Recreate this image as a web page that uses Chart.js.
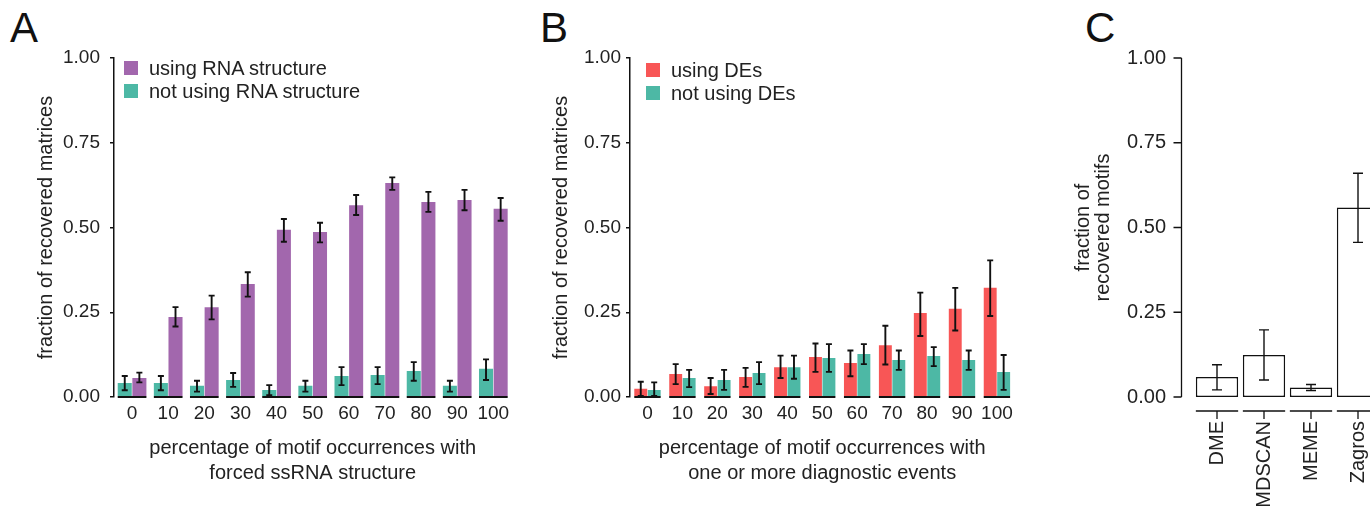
<!DOCTYPE html>
<html>
<head>
<meta charset="utf-8">
<script src="https://cdn.jsdelivr.net/npm/chart.js@4.4.1/dist/chart.umd.min.js"></script>
<style>
  html, body { margin: 0; padding: 0; background: #fff; width: 1370px; height: 509px; overflow: hidden; position: relative; }
  .panel { position: absolute; top: 0; height: 509px; }
  .tag { position: absolute; font: 42px "Liberation Sans", Arial, sans-serif; line-height: 1; color: #111; }
  .key { position: absolute; display: flex; align-items: center; height: 14px; font: 20px "Liberation Sans", Arial, sans-serif; color: #222; white-space: nowrap; }
  .key i { display: inline-block; width: 14px; height: 14px; margin-right: 11px; }
</style>
</head>
<body>
<div class="tag" style="left:10px;top:7px">A</div>
<div class="tag" style="left:540px;top:7px">B</div>
<div class="tag" style="left:1085px;top:7px">C</div>

<div class="panel" style="left:0;width:520px"><canvas id="chart-a"></canvas></div>
<div class="panel" style="left:530px;width:500px"><canvas id="chart-b"></canvas></div>
<div class="panel" style="left:1060px;width:330px"><canvas id="chart-c"></canvas></div>
<div id="legend-a"></div>
<div id="legend-b"></div>

<script>
// x categories for A and B
const pctLabels = ['0', '10', '20', '30', '40', '50', '60', '70', '80', '90', '100'];

// Panel A: forced ssRNA structure
const rnaUsing   = [0.056, 0.236, 0.265, 0.333, 0.493, 0.487, 0.566, 0.631, 0.575, 0.581, 0.555];
const rnaUsingLo = [0.043, 0.208, 0.229, 0.296, 0.458, 0.456, 0.537, 0.611, 0.546, 0.551, 0.520];
const rnaUsingHi = [0.072, 0.265, 0.299, 0.368, 0.525, 0.514, 0.596, 0.648, 0.605, 0.611, 0.587];
const rnaNot     = [0.041, 0.041, 0.033, 0.050, 0.021, 0.033, 0.062, 0.065, 0.077, 0.033, 0.083];
const rnaNotLo   = [0.020, 0.020, 0.016, 0.030, 0.005, 0.016, 0.035, 0.038, 0.048, 0.016, 0.050];
const rnaNotHi   = [0.062, 0.062, 0.048, 0.071, 0.035, 0.048, 0.088, 0.088, 0.103, 0.048, 0.111];

// Panel B: diagnostic events
const deUsing   = [0.024, 0.068, 0.032, 0.059, 0.088, 0.118, 0.100, 0.153, 0.248, 0.260, 0.322];
const deUsingLo = [0.003, 0.038, 0.009, 0.030, 0.056, 0.074, 0.061, 0.096, 0.180, 0.196, 0.239];
const deUsingHi = [0.045, 0.097, 0.056, 0.086, 0.122, 0.158, 0.137, 0.210, 0.308, 0.322, 0.403];
const deNot     = [0.021, 0.056, 0.050, 0.071, 0.088, 0.115, 0.127, 0.109, 0.121, 0.109, 0.074];
const deNotLo   = [0.003, 0.029, 0.021, 0.038, 0.054, 0.074, 0.097, 0.080, 0.091, 0.080, 0.021];
const deNotHi   = [0.043, 0.080, 0.080, 0.103, 0.122, 0.156, 0.156, 0.137, 0.147, 0.137, 0.124];

// Panel C: tools
const toolLabels = ['DME', 'MDSCAN', 'MEME', 'Zagros'];
const toolValues = [0.059, 0.124, 0.028, 0.559];
const toolLo     = [0.021, 0.050, 0.019, 0.456];
const toolHi     = [0.095, 0.198, 0.037, 0.660];

const yTicks = [0, 0.25, 0.5, 0.75, 1];

const PURPLE = '#a267ad';
const TEAL = '#4db8a5';
const RED = '#f85656';
const INK = '#222';

Chart.defaults.font.family = '"Liberation Sans", Arial, sans-serif';
Chart.defaults.color = INK;
Chart.defaults.animation = false;

// keep the chart area exactly where the layout padding puts it
function noEdgePadding(scale) {
    scale.paddingLeft = 0;
    scale.paddingRight = 0;
    scale.paddingTop = 0;
    scale.paddingBottom = 0;
}

// black segment under each group of bars (A and B)
const groupBase = {
    id: 'groupBase',
    afterDatasetsDraw(chart) {
        const ctx = chart.ctx;
        const first = chart.getDatasetMeta(0).data;
        const last = chart.getDatasetMeta(chart.data.datasets.length - 1).data;
        const y0 = chart.scales.y.getPixelForValue(0);
        ctx.save();
        ctx.strokeStyle = '#111';
        ctx.lineWidth = 2;
        ctx.beginPath();
        first.forEach((bar, j) => {
            ctx.moveTo(bar.x - bar.width / 2, y0);
            ctx.lineTo(last[j].x + last[j].width / 2, y0);
        });
        ctx.stroke();
        ctx.restore();
    }
};

// error bars read from dataset.errLo / dataset.errHi
const errorBars = {
    id: 'errorBars',
    afterDatasetsDraw(chart, args, opts) {
        const ctx = chart.ctx;
        const y = chart.scales.y;
        const half = opts.cap / 2;
        ctx.save();
        ctx.strokeStyle = '#111';
        ctx.lineWidth = opts.width;
        chart.data.datasets.forEach((ds, i) => {
            if (!ds.errLo) return;
            chart.getDatasetMeta(i).data.forEach((bar, j) => {
                const top = y.getPixelForValue(ds.errHi[j]);
                const bot = y.getPixelForValue(ds.errLo[j]);
                ctx.beginPath();
                ctx.moveTo(bar.x, top); ctx.lineTo(bar.x, bot);
                ctx.moveTo(bar.x - half, top); ctx.lineTo(bar.x + half, top);
                ctx.moveTo(bar.x - half, bot); ctx.lineTo(bar.x + half, bot);
                ctx.stroke();
            });
        });
        ctx.restore();
    }
};

// base-graphics style axes for panel C, set off from the plot
const detachedAxes = {
    id: 'detachedAxes',
    afterDraw(chart, args, opts) {
        const { ctx, chartArea, scales: { x, y } } = chart;
        const ax = chartArea.left - opts.gapY;
        const ay = chartArea.bottom + opts.gapX;
        ctx.save();
        ctx.strokeStyle = '#111';
        ctx.lineWidth = 1.3;
        ctx.beginPath();
        ctx.moveTo(ax, y.getPixelForValue(y.min));
        ctx.lineTo(ax, y.getPixelForValue(y.max));
        y.ticks.forEach(t => {
            const py = y.getPixelForValue(t.value);
            ctx.moveTo(ax - opts.tick, py);
            ctx.lineTo(ax, py);
        });
        chart.getDatasetMeta(0).data.forEach(bar => {
            ctx.moveTo(bar.x - bar.width / 2, ay);
            ctx.lineTo(bar.x + bar.width / 2, ay);
            ctx.moveTo(bar.x, ay);
            ctx.lineTo(bar.x, ay + opts.tick);
        });
        ctx.stroke();
        ctx.restore();
    }
};

function groupedOptions(cfg) {
    return {
        responsive: true,
        maintainAspectRatio: false,
        layout: { padding: { top: 58, right: cfg.right, bottom: 0, left: 0 } },
        plugins: {
            legend: { display: false },
            tooltip: { enabled: false },
            errorBars: { cap: 6, width: 1.9 }
        },
        scales: {
            x: {
                grid: { display: false, drawTicks: false },
                border: { display: false },
                ticks: { font: { size: 19 }, padding: 5, color: INK, maxRotation: 0, minRotation: 0, autoSkip: false },
                title: {
                    display: true,
                    text: cfg.xTitle,
                    font: { size: 20, lineHeight: 1.25 },
                    padding: { top: 0, bottom: 23 },
                    color: INK
                },
                afterFit: scale => { scale.height = 112; noEdgePadding(scale); }
            },
            y: {
                min: 0,
                max: 1,
                afterBuildTicks: scale => { scale.ticks = yTicks.map(v => ({ value: v })); },
                ticks: { font: { size: 19 }, padding: cfg.tickPad, color: INK, callback: v => v.toFixed(2) },
                grid: { display: true, drawOnChartArea: false, drawTicks: true, tickLength: 4, color: '#111', lineWidth: 1.5 },
                border: { display: true, color: '#111', width: 1.5 },
                title: {
                    display: true,
                    text: 'fraction of recovered matrices',
                    font: { size: 20 },
                    padding: { top: cfg.titlePad, bottom: 0 },
                    color: INK
                },
                afterFit: scale => { scale.width = cfg.yWidth; noEdgePadding(scale); }
            }
        }
    };
}

function buildLegend(id, chart, order, left, top) {
    const holder = document.getElementById(id);
    order.forEach((i, row) => {
        const ds = chart.data.datasets[i];
        const key = document.createElement('div');
        key.className = 'key';
        key.style.left = left + 'px';
        key.style.top = (top + row * 23) + 'px';
        key.innerHTML = '<i style="background:' + ds.backgroundColor + '"></i>';
        key.appendChild(document.createTextNode(ds.label));
        holder.appendChild(key);
    });
}

const chartA = new Chart(document.getElementById('chart-a'), {
    type: 'bar',
    data: {
        labels: pctLabels,
        datasets: [
            { label: 'not using RNA structure', data: rnaNot, errLo: rnaNotLo, errHi: rnaNotHi,
              backgroundColor: TEAL, barPercentage: 0.96, categoryPercentage: 0.81 },
            { label: 'using RNA structure', data: rnaUsing, errLo: rnaUsingLo, errHi: rnaUsingHi,
              backgroundColor: PURPLE, barPercentage: 0.96, categoryPercentage: 0.81 }
        ]
    },
    options: groupedOptions({
        right: 8.6, yWidth: 114, tickPad: 10, titlePad: 34.5,
        xTitle: ['percentage of motif occurrences with', 'forced ssRNA structure']
    }),
    plugins: [groupBase, errorBars]
});

const chartB = new Chart(document.getElementById('chart-b'), {
    type: 'bar',
    data: {
        labels: pctLabels,
        datasets: [
            { label: 'using DEs', data: deUsing, errLo: deUsingLo, errHi: deUsingHi,
              backgroundColor: RED, barPercentage: 0.96, categoryPercentage: 0.77 },
            { label: 'not using DEs', data: deNot, errLo: deNotLo, errHi: deNotHi,
              backgroundColor: TEAL, barPercentage: 0.96, categoryPercentage: 0.77 }
        ]
    },
    options: groupedOptions({
        right: 15.6, yWidth: 100, tickPad: 5, titlePad: 19.5,
        xTitle: ['percentage of motif occurrences with', 'one or more diagnostic events']
    }),
    plugins: [groupBase, errorBars]
});

buildLegend('legend-a', chartA, [1, 0], 124, 61);
buildLegend('legend-b', chartB, [0, 1], 646, 63);

new Chart(document.getElementById('chart-c'), {
    type: 'bar',
    data: {
        labels: toolLabels,
        datasets: [{
            label: 'fraction of recovered motifs',
            data: toolValues,
            errLo: toolLo,
            errHi: toolHi,
            backgroundColor: '#fff',
            borderColor: '#111',
            borderWidth: 1.5,
            borderSkipped: false,
            barPercentage: 0.9,
            categoryPercentage: 1
        }]
    },
    options: {
        responsive: true,
        maintainAspectRatio: false,
        layout: { padding: { top: 58, right: 8.5, bottom: 0, left: 0 } },
        plugins: {
            legend: { display: false },
            tooltip: { enabled: false },
            errorBars: { cap: 10, width: 1.4 },
            detachedAxes: { gapY: 12, gapX: 14, tick: 8 }
        },
        scales: {
            x: {
                grid: { display: false, drawTicks: false },
                border: { display: false },
                ticks: { font: { size: 20 }, padding: 24, minRotation: 90, maxRotation: 90, autoSkip: false, color: INK },
                afterFit: scale => { scale.height = 112; noEdgePadding(scale); }
            },
            y: {
                min: 0,
                max: 1,
                afterBuildTicks: scale => { scale.ticks = yTicks.map(v => ({ value: v })); },
                ticks: { font: { size: 20 }, padding: 27.5, color: INK, callback: v => v.toFixed(2) },
                grid: { display: false, drawTicks: false },
                border: { display: false },
                title: {
                    display: true,
                    text: ['fraction of', 'recovered motifs'],
                    font: { size: 20, lineHeight: 1.0 },
                    padding: { top: 13, bottom: 0 },
                    color: INK
                },
                afterFit: scale => { scale.width = 133.5; noEdgePadding(scale); }
            }
        }
    },
    plugins: [errorBars, detachedAxes]
});
</script>
</body>
</html>
